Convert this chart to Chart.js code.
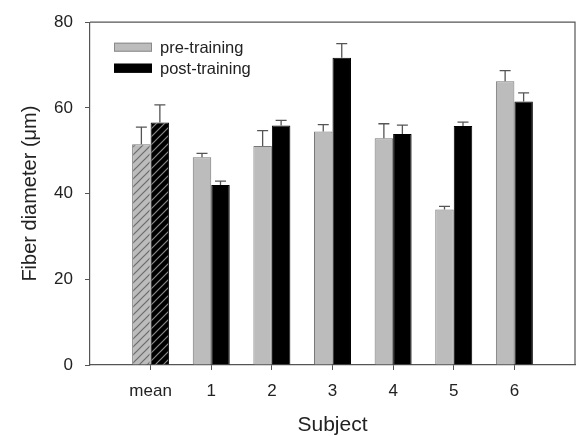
<!DOCTYPE html>
<html>
<head>
<meta charset="utf-8">
<script src="https://cdn.jsdelivr.net/npm/chart.js@4"></script>
<style>
  html, body { margin: 0; padding: 0; background: #fff; }
  #wrap { width: 586px; height: 436px; }
</style>
</head>
<body>
<div id="wrap"><canvas id="c" width="586" height="436"></canvas></div>
<script>
// Fiber diameter per subject, before and after training (upper error = SD)
const categories = ['mean', '1', '2', '3', '4', '5', '6'];
const preTraining = [51.5, 48.5, 51.1, 54.5, 52.9, 36.3, 66.2];
const preError = [4.0, 0.9, 3.6, 1.6, 3.4, 0.7, 2.5];
const postTraining = [56.6, 42.0, 55.9, 71.7, 53.9, 55.8, 61.5];
const postError = [4.1, 0.9, 1.2, 3.3, 2.1, 0.9, 2.0];
const yTicks = [0, 20, 40, 60, 80];

const PRE_FILL = '#bcbcbc';
const POST_FILL = '#000000';
const LINE = '#555555';
const FAMILY = '"Liberation Sans", Arial, sans-serif';

// Diagonal hatch pattern used for the group mean bars
function hatch(base, stroke) {
  const p = document.createElement('canvas');
  p.width = 8; p.height = 8;
  const g = p.getContext('2d');
  g.fillStyle = base; g.fillRect(0, 0, 8, 8);
  g.strokeStyle = stroke; g.lineWidth = 1.2;
  g.beginPath();
  g.moveTo(0, 8); g.lineTo(8, 0);
  g.moveTo(-2, 2); g.lineTo(2, -2);
  g.moveTo(6, 10); g.lineTo(10, 6);
  g.stroke();
  return document.getElementById('c').getContext('2d').createPattern(p, 'repeat');
}
const preHatch = hatch(PRE_FILL, '#6a6a6a');
const postHatch = hatch(POST_FILL, '#8a8a8a');

// Empty slots at both ends give the axis its outer margins
const labels = ['', ...categories, ''];
const pad = arr => [null, ...arr, null];

const errorBars = {
  id: 'errorBars',
  afterDatasetsDraw(chart) {
    const ctx = chart.ctx;
    const errs = [preError, postError];
    ctx.save();
    ctx.strokeStyle = LINE;
    ctx.lineWidth = 1.3;
    chart.data.datasets.forEach((ds, di) => {
      const meta = chart.getDatasetMeta(di);
      meta.data.forEach((bar, i) => {
        const v = ds.data[i];
        if (v == null) return;
        const e = errs[di][i - 1];
        const yTop = chart.scales.y.getPixelForValue(v + e);
        const x = bar.x;
        ctx.beginPath();
        ctx.moveTo(x, bar.y);
        ctx.lineTo(x, yTop);
        ctx.moveTo(x - 5.5, yTop);
        ctx.lineTo(x + 5.5, yTop);
        ctx.stroke();
      });
    });
    ctx.restore();
  }
};

const frameAndLegend = {
  id: 'frameAndLegend',
  afterDraw(chart) {
    const ctx = chart.ctx;
    const a = chart.chartArea;
    ctx.save();
    ctx.strokeStyle = LINE;
    ctx.lineWidth = 1.2;
    ctx.beginPath();
    ctx.moveTo(a.left, a.top);
    ctx.lineTo(a.right, a.top);
    ctx.lineTo(a.right, a.bottom);
    ctx.stroke();

    const items = [
      { label: chart.data.datasets[0].label, fill: PRE_FILL, border: '#8a8a8a' },
      { label: chart.data.datasets[1].label, fill: POST_FILL, border: '#000' }
    ];
    ctx.font = '16.5px ' + FAMILY;
    ctx.textBaseline = 'middle';
    items.forEach((it, k) => {
      const cy = a.top + 25 + k * 21;
      ctx.fillStyle = it.fill;
      ctx.fillRect(a.left + 24, cy - 4.5, 38, 9);
      ctx.strokeStyle = it.border;
      ctx.lineWidth = 1;
      ctx.strokeRect(a.left + 24.5, cy - 4, 37, 8);
      ctx.fillStyle = '#222';
      ctx.fillText(it.label, a.left + 70, cy + 1);
    });
    ctx.restore();
  }
};

const tickFont = { family: FAMILY, size: 17 };

new Chart(document.getElementById('c'), {
  type: 'bar',
  data: {
    labels: labels,
    datasets: [
      {
        label: 'pre-training',
        data: pad(preTraining),
        backgroundColor: c => (c.dataIndex === 1 ? preHatch : PRE_FILL),
        borderColor: '#777',
        borderWidth: 1,
        borderSkipped: 'bottom'
      },
      {
        label: 'post-training',
        data: pad(postTraining),
        backgroundColor: c => (c.dataIndex === 1 ? postHatch : POST_FILL),
        borderColor: '#000',
        borderWidth: 1,
        borderSkipped: 'bottom'
      }
    ]
  },
  options: {
    responsive: false,
    animation: false,
    events: [],
    layout: { padding: { top: 20, right: 4, left: 0, bottom: 0 } },
    datasets: { bar: { categoryPercentage: 0.61, barPercentage: 1.0 } },
    plugins: { legend: { display: false }, tooltip: { enabled: false } },
    scales: {
      x: {
        offset: false,
        grid: {
          offset: false,
          drawOnChartArea: false,
          drawTicks: true,
          tickLength: 5,
          color: c => (c.index === 0 || c.index === labels.length - 1 ? 'rgba(0,0,0,0)' : LINE)
        },
        border: { display: true, color: LINE, width: 1.2 },
        ticks: { font: tickFont, color: '#222', padding: 11, maxRotation: 0, autoSkip: false },
        title: { display: true, text: 'Subject', font: { family: FAMILY, size: 21 }, color: '#222', padding: { top: 12, bottom: -2 } },
        afterFit: s => { s.height = 71; }
      },
      y: {
        min: 0, max: 80,
        afterBuildTicks: s => { s.ticks = yTicks.map(v => ({ value: v })); },
        grid: { drawOnChartArea: false, drawTicks: true, tickLength: 5, color: LINE },
        border: { display: true, color: LINE, width: 1.2 },
        ticks: { font: tickFont, color: '#222', padding: 12 },
        title: { display: true, text: 'Fiber diameter (\u03BCm)', font: { family: FAMILY, size: 20 }, color: '#222', padding: { top: 18, bottom: 0 } },
        afterFit: s => { s.width = 90; }
      }
    }
  },
  plugins: [errorBars, frameAndLegend]
});
</script>
</body>
</html>
